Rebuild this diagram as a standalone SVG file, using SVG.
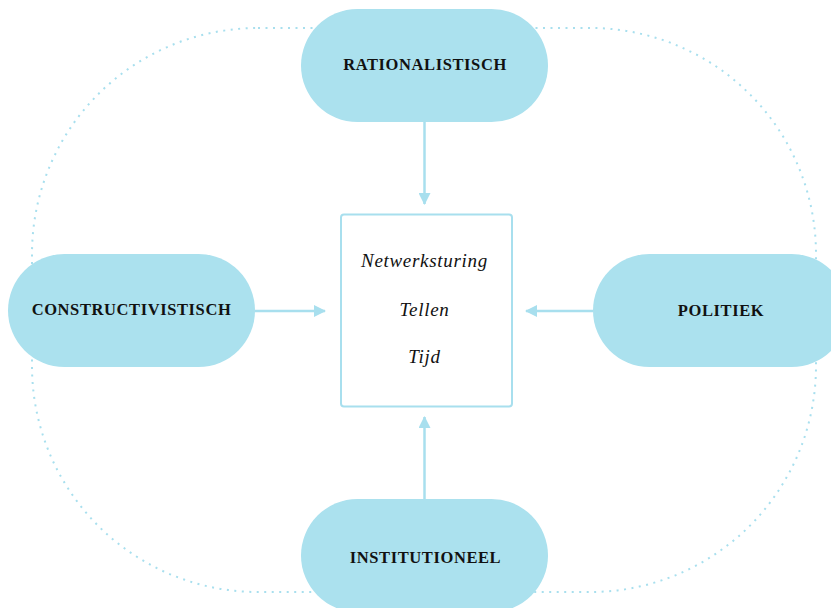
<svg xmlns="http://www.w3.org/2000/svg" width="831" height="608" viewBox="0 0 831 608">
<defs>
<style>
.pill{fill:#abe1ee}
.lbl{font-family:"Liberation Serif","DejaVu Serif",serif;font-weight:bold;font-size:16.5px;letter-spacing:0.6px;fill:#111;text-anchor:middle;dominant-baseline:central}
.it{font-family:"Liberation Serif","DejaVu Serif",serif;font-style:italic;font-size:19px;letter-spacing:0.7px;fill:#111;text-anchor:middle}
.conn{stroke:#a8dfee;stroke-width:2.5;fill:none}
</style>
<marker id="ah" viewBox="0 0 12 12" refX="11" refY="6" markerWidth="12" markerHeight="12" markerUnits="userSpaceOnUse" orient="auto">
<path d="M0,0 L12,6 L0,12 Z" fill="#a8dfee"/>
</marker>
</defs>
<rect width="831" height="608" fill="#fff"/>
<rect x="32" y="28" width="784" height="564" rx="226" ry="226" fill="none" stroke="#a8dfee" stroke-width="2" stroke-dasharray="2 5.5"/>
<g id="connectors">
<line class="conn" x1="424.5" y1="122" x2="424.5" y2="204" marker-end="url(#ah)"/>
<line class="conn" x1="255" y1="311" x2="325" y2="311" marker-end="url(#ah)"/>
<line class="conn" x1="593" y1="311" x2="526" y2="311" marker-end="url(#ah)"/>
<line class="conn" x1="424.5" y1="499" x2="424.5" y2="417" marker-end="url(#ah)"/>
</g>
<g id="rationalistisch">
<rect class="pill" x="301" y="9" width="247" height="113" rx="56.5"/>
<text class="lbl" x="425" y="64.5">RATIONALISTISCH</text>
</g>
<g id="constructivistisch">
<rect class="pill" x="8" y="254" width="247" height="113" rx="56.5"/>
<text class="lbl" x="131.5" y="309.5">CONSTRUCTIVISTISCH</text>
</g>
<g id="politiek">
<rect class="pill" x="593" y="254" width="255" height="113" rx="56.5"/>
<text class="lbl" x="721" y="310.5">POLITIEK</text>
</g>
<g id="institutioneel">
<rect class="pill" x="301" y="499" width="247" height="113" rx="56.5"/>
<text class="lbl" x="425.5" y="557">INSTITUTIONEEL</text>
</g>
<g id="center">
<rect x="341" y="214.5" width="171" height="192" rx="3" fill="#fff" stroke="#a8dfee" stroke-width="2"/>
<text class="it" x="424.5" y="267">Netwerksturing</text>
<text class="it" x="424.5" y="316">Tellen</text>
<text class="it" x="424.5" y="363">Tijd</text>
</g>
</svg>
